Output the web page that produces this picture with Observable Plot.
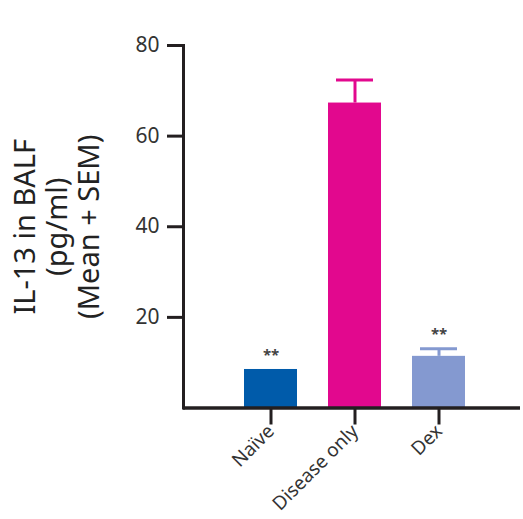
<!DOCTYPE html>
<html>
<head>
<meta charset="utf-8">
<script src="https://cdn.jsdelivr.net/npm/d3@7"></script>
<script src="https://cdn.jsdelivr.net/npm/@observablehq/plot@0.6"></script>
<style>
  body { margin: 0; background: #fff; }
  svg { font-family: "Noto Sans", sans-serif; }
</style>
</head>
<body>
<div id="chart"></div>
<script>
const groups = ["Naïve", "Disease only", "Dex"];
const means = [8.5, 67.3, 11.4];
const sems = [0, 5.1, 1.7];
const colors = ["#005BAA", "#E2088E", "#8499D0"];
const significance = ["**", "", "**"];
const yTicks = [20, 40, 60, 80];
const yLabel = "IL-13 in BALF\n(pg/ml)\n(Mean + SEM)";

const data = groups.map((g, i) => ({group: g, mean: means[i], sem: sems[i], top: means[i] + sems[i], color: colors[i], sig: significance[i]}));
const withErr = data.filter(d => d.sem > 0);

const axisColor = "#231f20";

const chart = Plot.plot({
  width: 523,
  height: 519,
  marginLeft: 183,
  marginRight: 3,
  marginTop: 45,
  marginBottom: 111.5,
  x: {domain: groups, paddingInner: 0.373, paddingOuter: 0.69, range: [184.7, 523.3], label: null},
  y: {domain: [0, 80], label: null},
  color: {domain: groups, range: colors},
  marks: [
    Plot.barY(data, {x: "group", y: "mean", fill: "color"}),
    Plot.ruleX(withErr, {x: "group", y1: "mean", y2: "top", stroke: "color", strokeWidth: 3}),
    Plot.tickY(withErr, {x: "group", y: "top", stroke: "color", strokeWidth: 3, inset: 8}),
    Plot.text(data.filter(d => d.sig), {x: "group", y: "top", text: "sig", dy: -14, fontSize: 15, fontWeight: "bold", fill: "#444"}),
    Plot.axisY({ticks: yTicks, tickSize: 16, tickPadding: 8, tickWidth: 3, stroke: axisColor, strokeWidth: 3, fontSize: 21, fill: "#333", label: null}),
    Plot.axisX({tickSize: 17, tickPadding: 3, strokeWidth: 3, stroke: axisColor, tickRotate: -45, fontSize: 19, fill: "#333", label: null}),
    Plot.frame({anchor: "left", stroke: axisColor, strokeWidth: 3}),
    Plot.ruleY([0], {stroke: axisColor, strokeWidth: 3.5}),
    Plot.text([yLabel], {frameAnchor: "left", dx: -127, rotate: -90, textAnchor: "middle", lineAnchor: "middle", lineHeight: 1.1, fontSize: 29, fill: "#222"})
  ]
});
document.getElementById("chart").appendChild(chart);
</script>
</body>
</html>
